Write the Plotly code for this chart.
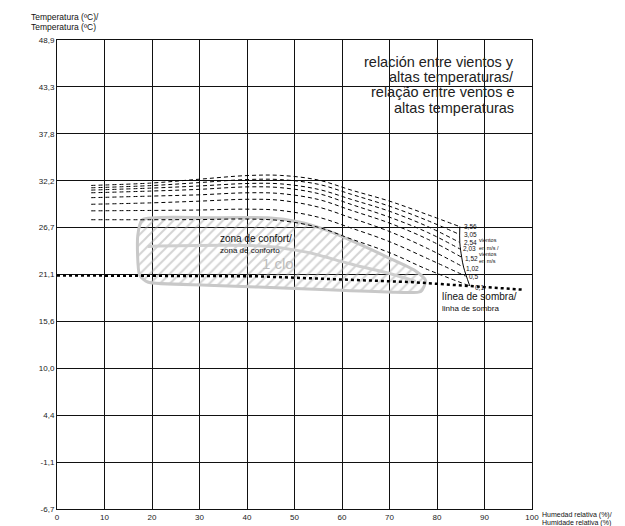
import plotly.graph_objects as go

# ---------------- data ----------------
x_ticks = [0, 10, 20, 30, 40, 50, 60, 70, 80, 90, 100]
y_ticks = [-6.67, -1.11, 4.44, 10.0, 15.56, 21.11, 26.67, 32.22, 37.78, 43.33, 48.89]
y_ticktext = ["-6,7", "-1,1", "4,4", "10,0", "15,6", "21,1", "26,7", "32,2", "37,8", "43,3", "48,9"]

wind_labels = ["3,56", "3,05", "2,54", "2,03", "1,52", "1,02", "0,5", "0,1"]
wind_x = [
    [7.2, 20, 30, 40, 47, 55, 62, 70, 78, 84.8],
    [7.2, 20, 30, 40, 47, 55, 62, 70, 78, 84.8],
    [7.2, 20, 30, 40, 47, 55, 62, 70, 78, 84.8],
    [7.2, 20, 30, 40, 47, 55, 62, 70, 78, 85.0],
    [7.2, 20, 30, 40, 47, 55, 62, 70, 78, 85.2],
    [7.2, 20, 30, 40, 47, 55, 62, 70, 78, 85.6],
    [7.2, 20, 30, 40, 47, 55, 62, 70, 78, 86.0],
    [7.2, 20, 30, 40, 47, 55, 62, 70, 78, 86.9],
]
wind_y = [
    [31.66, 31.95, 32.40, 32.83, 32.85, 32.30, 31.10, 29.80, 28.20, 26.78],
    [31.38, 31.65, 32.00, 32.36, 32.35, 31.80, 30.60, 29.20, 27.50, 25.84],
    [31.11, 31.35, 31.60, 31.89, 31.85, 31.20, 30.00, 28.60, 26.80, 24.90],
    [30.79, 31.00, 31.20, 31.49, 31.40, 30.70, 29.40, 27.90, 26.10, 24.08],
    [30.21, 30.40, 30.55, 30.79, 30.70, 30.00, 28.70, 27.20, 25.30, 23.15],
    [29.43, 29.60, 29.80, 30.02, 29.90, 29.10, 27.80, 26.20, 24.20, 21.98],
    [28.65, 28.70, 28.75, 28.85, 28.70, 27.90, 26.60, 25.00, 23.00, 20.92],
    [27.60, 27.60, 27.62, 27.68, 27.50, 26.70, 25.30, 23.70, 21.70, 19.75],
]

end_curve_x = [84.8, 84.8, 85.2, 85.6, 86.9]
end_curve_y = [26.78, 24.90, 23.15, 21.98, 19.75]

comfort_x = [18.0, 31.7, 44.4, 50.7, 57.0, 63.3, 69.6, 75.2, 77.6, 76.6, 69.6, 52.8, 31.7, 19.1, 17.4, 17.0, 18.0]
comfort_y = [27.60, 27.83, 27.83, 27.36, 26.31, 24.79, 23.15, 21.63, 20.40, 19.10, 19.05, 19.40, 19.85, 20.22, 21.04, 25.72, 27.60]

clo_x = [19.1, 44.4, 52.8, 61.2, 69.6, 75.5]
clo_y = [24.44, 24.44, 23.73, 22.45, 21.28, 20.30]

shade_x = [0, 42, 75, 98.4]
shade_y = [21.0, 20.9, 20.2, 19.3]

# ---------------- figure ----------------
FONT = "Liberation Sans"
fig = go.Figure()

fig.add_trace(go.Scatter(
    x=comfort_x, y=comfort_y, mode="lines", fill="toself",
    fillcolor="rgba(255,255,255,0)",
    fillpattern=dict(shape="/", fgcolor="#a8a8a8", bgcolor="rgba(255,255,255,0)", size=7, solidity=0.28),
    line=dict(color="#c8c8c8", width=3, shape="spline", smoothing=0.6),
    hoverinfo="skip", showlegend=False))

fig.add_trace(go.Scatter(
    x=clo_x, y=clo_y, mode="lines",
    line=dict(color="#cfcfcf", width=3, shape="spline"),
    hoverinfo="skip", showlegend=False))

for xs, ys in zip(wind_x, wind_y):
    fig.add_trace(go.Scatter(
        x=xs, y=ys, mode="lines",
        line=dict(color="black", width=1, dash="4px,3px", shape="spline"),
        hoverinfo="skip", showlegend=False))

fig.add_trace(go.Scatter(
    x=end_curve_x, y=end_curve_y, mode="lines",
    line=dict(color="black", width=1, shape="spline"),
    hoverinfo="skip", showlegend=False))

fig.add_trace(go.Scatter(
    x=shade_x, y=shade_y, mode="lines",
    line=dict(color="black", width=2.5, dash="dot"),
    hoverinfo="skip", showlegend=False))

X0, X1, Y0, Y1 = 49.3, 524.3, 32.0, 507.0


def P(px, py):
    return (px - X0) / (X1 - X0), 1 - (py - Y0) / (Y1 - Y0)


def note(text, px, py, size, anchor="left", color="#111"):
    xp, yp = P(px, py)
    fig.add_annotation(xref="paper", yref="paper", x=xp, y=yp, text=text,
                       showarrow=False, xanchor=anchor, yanchor="middle",
                       font=dict(family=FONT, size=size, color=color))


# axis titles
note("Temperatura (ºC)/", 21, 9, 8.5)
note("Temperatura (ºC)", 21, 19, 8.5)
note("Humedad relativa (%)/", 532, 513.5, 7)
note("Humidade relativa (%)", 532, 521.5, 7)

# big title
for t, py in zip(["relación entre vientos y", "altas temperaturas/",
                  "relação entre ventos e", "altas temperaturas"],
                 [54, 69.5, 85, 100.5]):
    note(t, 508, py, 14.5, anchor="right", color="#222")

note("zona de confort/", 210, 233, 10)
note("zona de conforto", 210, 245, 8)
note("1 clo", 252, 258, 15, color="#bdbdbd")
note("línea de sombra/", 432, 292, 10)
note("linha de sombra", 432, 304, 8)

for lbl, (px, py) in zip(wind_labels, [(454, 221), (454, 229), (454, 237), (453, 243.5),
                                       (455, 253), (456.5, 263), (459, 272), (465, 283)]):
    note(lbl, px, py, 6.5)

for t, py in zip(["vientos", "en m/s /", "vientos", "en m/s"], [235, 242.5, 249, 256]):
    note(t, 469, py, 5.5)

fig.update_xaxes(range=[0, 100], tickvals=x_ticks, ticktext=[str(v) for v in x_ticks],
                 showgrid=True, gridcolor="#111", gridwidth=1, zeroline=False,
                 showline=True, linecolor="#111", linewidth=1, mirror=True,
                 ticks="", tickfont=dict(family=FONT, size=8, color="#222"))
fig.update_yaxes(range=[-6.67, 48.89], tickvals=y_ticks, ticktext=y_ticktext,
                 showgrid=True, gridcolor="#111", gridwidth=1, zeroline=False,
                 showline=True, linecolor="#111", linewidth=1, mirror=True,
                 ticks="", tickfont=dict(family=FONT, size=8, color="#222"))

fig.update_layout(width=625, height=526, margin=dict(l=49, r=101, t=32, b=19),
                  paper_bgcolor="white", plot_bgcolor="white")

fig.write_html("out.html")
